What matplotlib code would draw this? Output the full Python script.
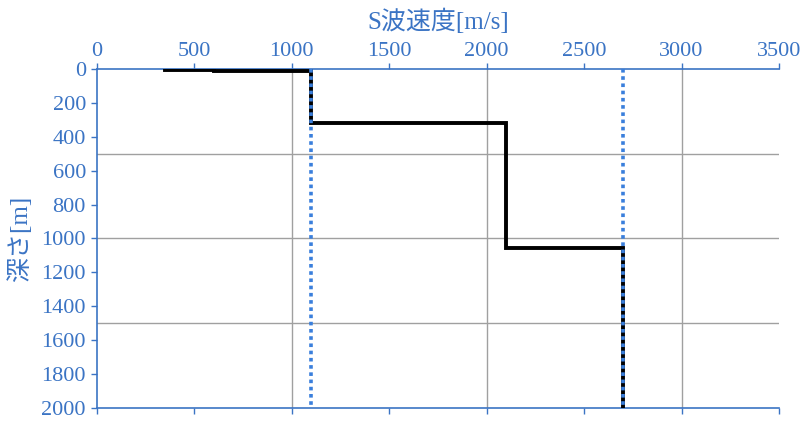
import numpy as np
import matplotlib
matplotlib.use("Agg")
import matplotlib.pyplot as plt

# S-wave velocity profile (layered model)
layer_vs = [350, 600, 1100, 2100, 2700]          # m/s
layer_bounds = [0, 3, 12, 318, 1057, 2000]        # m, tops and last bottom
ref_vs = [1100, 2700]                              # dotted reference lines

x_ticks = [0, 500, 1000, 1500, 2000, 2500, 3000, 3500]
y_ticks = list(range(0, 2001, 200))
x_grid = [1000, 2000, 3000]
y_grid = [500, 1000, 1500]

blue = "#3b74c4"
plt.rcParams['font.family'] = ['Liberation Serif', 'Noto Sans CJK JP', 'DejaVu Sans']

fig = plt.figure(figsize=(8.1, 4.26), dpi=100)
ax = fig.add_axes([97 / 810, 1 - 408 / 426, (779 - 97) / 810, (408 - 69) / 426])

# step profile
xs = np.repeat(layer_vs, 2)
ys = np.repeat(layer_bounds, 2)[1:-1]
ax.plot(xs, ys, color="black", lw=2.8, solid_joinstyle="miter", zorder=3)

for v in ref_vs:
    ax.plot([v, v], [0, 2000], color="#3a7fdc", lw=2.6, ls=(0, (1, 1)), zorder=4)

for g in x_grid:
    ax.axvline(g, color="#a0a0a0", lw=1, zorder=1)
for g in y_grid:
    ax.axhline(g, color="#a0a0a0", lw=1, zorder=1)

ax.set_xlim(0, 3500)
ax.set_ylim(2000, 0)
ax.xaxis.tick_top()
ax.xaxis.set_label_position("top")
ax.set_xticks(x_ticks)
ax.set_yticks(y_ticks)
ax.tick_params(axis="x", which="both", colors=blue, labelsize=16, length=4,
               width=1, direction="out", pad=2, bottom=True, top=True,
               labelbottom=False)
ax.tick_params(axis="y", colors=blue, labelsize=16, length=4, width=1,
               direction="out", pad=4)
for lab in ax.get_xticklabels() + ax.get_yticklabels():
    lab.set_color(blue)

for side in ["top", "left", "bottom"]:
    ax.spines[side].set_color(blue)
    ax.spines[side].set_linewidth(1.2)
ax.spines["right"].set_visible(False)

ax.set_xlabel("S波速度[m/s]", color=blue, fontsize=18, labelpad=9)
ax.set_ylabel("深さ[m]", color=blue, fontsize=18, labelpad=7)

fig.savefig("out.png", dpi=100)
